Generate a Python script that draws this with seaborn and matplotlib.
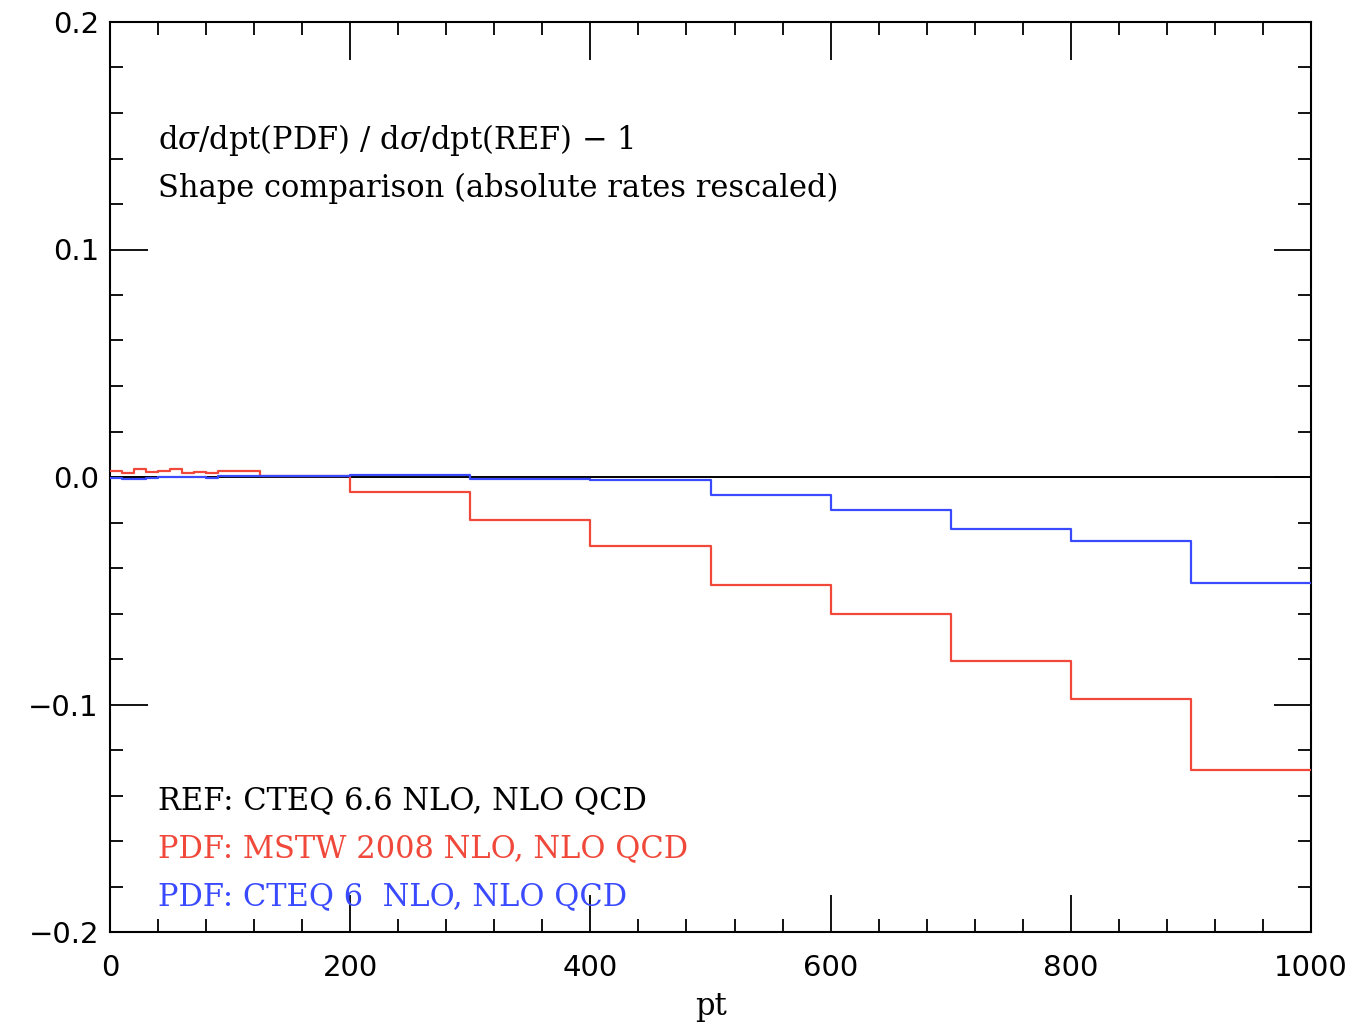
import numpy as np
import pandas as pd
import matplotlib
matplotlib.use("Agg")
import matplotlib.pyplot as plt
import seaborn as sns
from matplotlib.ticker import MultipleLocator

# ---- data ----
bin_edges = [0, 10, 20, 30, 40, 50, 60, 70, 80, 90, 125, 200, 300, 400, 500,
             600, 700, 800, 900, 1000]
mstw_ratio = [0.0026, 0.0019, 0.0034, 0.0022, 0.0026, 0.0034, 0.0019, 0.0023,
              0.0016, 0.0026, 0.0003, -0.0064, -0.0188, -0.0305, -0.0476,
              -0.0604, -0.0807, -0.0978, -0.1290]
cteq6_ratio = [-0.0003, -0.0010, -0.0007, -0.0006, -0.0001, 0.0001, 0.0000,
               -0.0001, -0.0004, 0.0004, 0.0004, 0.0007, -0.0007, -0.0012,
               -0.0078, -0.0147, -0.0227, -0.0281, -0.0464]
series_names = ["MSTW", "CTEQ6"]
series_colors = ["#f0483a", "#3a4bff"]
title_lines = [r"d$\sigma$/dpt(PDF) / d$\sigma$/dpt(REF) $-$ 1",
               "Shape comparison (absolute rates rescaled)"]
legend_lines = ["REF: CTEQ 6.6 NLO, NLO QCD",
                "PDF: MSTW 2008 NLO, NLO QCD",
                "PDF: CTEQ 6  NLO, NLO QCD"]
legend_colors = ["black", "#f0483a", "#3a4bff"]
x_label = "pt"

sns.set_style("white")
plt.rcParams["mathtext.fontset"] = "dejavuserif"
plt.rcParams["font.family"] = ["DejaVu Sans"]
plt.rcParams["text.color"] = "black"
plt.rcParams["axes.labelcolor"] = "black"
plt.rcParams["xtick.color"] = "black"
plt.rcParams["ytick.color"] = "black"

fig = plt.figure(figsize=(13.56, 10.31), dpi=100)
ax = fig.add_axes([110 / 1356, 1 - 932 / 1031, 1201 / 1356, 910 / 1031])

rows = []
for name, vals in zip(series_names, [mstw_ratio, cteq6_ratio]):
    ys = list(vals) + [vals[-1]]
    for i, (x, y) in enumerate(zip(bin_edges, ys)):
        rows.append({"pt": x, "ratio": y, "series": name, "order": i})
df = pd.DataFrame(rows)

ax.axhline(0, color="black", lw=1.4, zorder=1)
for name, col in zip(series_names, series_colors):
    sub = df[df["series"] == name]
    sns.lineplot(data=sub, x="pt", y="ratio", ax=ax, color=col, lw=1.6,
                 drawstyle="steps-post", sort=False, estimator=None,
                 legend=False, zorder=3)

ax.set_xlim(0, 1000)
ax.set_ylim(-0.2, 0.2)
ax.xaxis.set_major_locator(MultipleLocator(200))
ax.xaxis.set_minor_locator(MultipleLocator(40))
ax.yaxis.set_major_locator(MultipleLocator(0.1))
ax.yaxis.set_minor_locator(MultipleLocator(0.02))
ax.tick_params(which="both", direction="in", top=True, right=True,
               bottom=True, left=True, color="black", labelcolor="black",
               width=1.3)
ax.tick_params(which="major", length=27, labelsize=21, pad=8)
ax.tick_params(axis="x", which="major", pad=16)
ax.tick_params(which="minor", length=9.5)
ax.set_yticks([-0.2, -0.1, 0.0, 0.1, 0.2])
ax.set_yticklabels(["\u22120.2", "\u22120.1", "0.0", "0.1", "0.2"])
ax.set_xticks([0, 200, 400, 600, 800, 1000])
ax.set_xticklabels(["0", "200", "400", "600", "800", "1000"])
for sp in ax.spines.values():
    sp.set_color("black")
    sp.set_linewidth(1.5)
ax.set_xlabel(x_label, fontsize=22, family="DejaVu Serif", labelpad=6,
              color="black")
ax.set_ylabel("")

ys_title = [0.144, 0.123]
for t, y in zip(title_lines, ys_title):
    ax.text(40, y, t, fontsize=22, family="DejaVu Serif", va="baseline",
            ha="left", color="black")
ys_leg = [-0.146, -0.167, -0.188]
for t, y, c in zip(legend_lines, ys_leg, legend_colors):
    ax.text(40, y, t, fontsize=22, family="DejaVu Serif", va="baseline",
            ha="left", color=c)

fig.savefig("out.png", dpi=100)
